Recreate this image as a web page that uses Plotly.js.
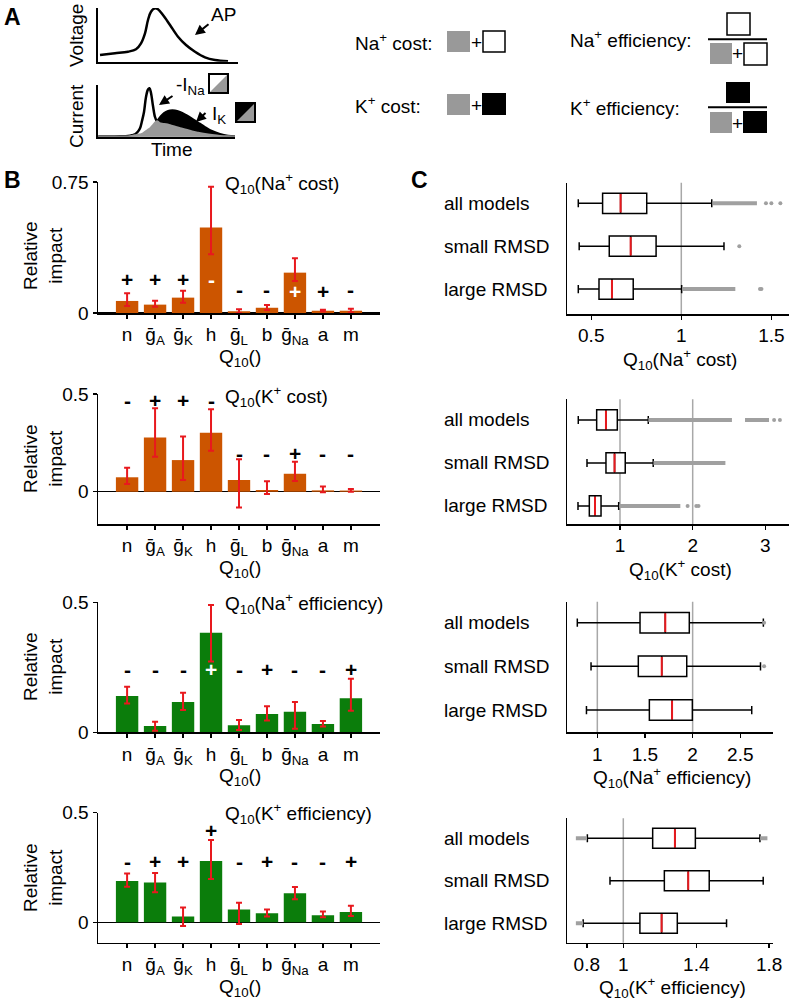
<!DOCTYPE html>
<html><head><meta charset="utf-8">
<script src="https://cdn.plot.ly/plotly-3.0.1.min.js"></script>
<style>html,body{margin:0;padding:0;background:#fff}#chart{width:791px;height:1002px}</style>
</head><body><div id="chart"></div>
<script>
const W = 791, H = 1002;
const FONT = 'Liberation Sans, Arial, Helvetica, sans-serif';

// ---------- Panel A: schematic traces (arbitrary units) ----------
const apTime    = [2, 17, 30, 38, 43, 47, 50, 53, 57, 60, 65, 72, 80, 88, 97, 107, 117, 130];
const apVoltage = [7, 8.7, 10.3, 12.7, 18.7, 28.7, 42, 50.3, 53.7, 52.7, 47, 37, 25.3, 17, 10.3, 4.7, 2, 0.7];
const curTime = [0, 12, 22, 30, 34, 37, 40, 42, 44, 46, 48, 50, 51.5, 53, 55, 57, 59, 61, 64, 68, 72, 77, 82, 88, 94, 100, 107, 114, 122, 130, 137];
const curNa   = [0.5, 0.5, 0.7, 1, 1.7, 2.7, 5.5, 8.7, 16, 25, 40, 47.5, 48.7, 44, 31, 20, 15.5, 14, 13, 12.5, 11.5, 10, 8.5, 7, 5.3, 4, 2.7, 1.7, 0.8, 0.4, 0.3];
const curK    = [0.3, 0.3, 0.3, 0.3, 0.8, 1.4, 2, 2.3, 2.8, 4, 5.5, 7, 8, 9.2, 11.5, 13.8, 15.7, 18.5, 22, 25, 26.5, 26.5, 25, 22, 18.5, 14.5, 10, 6, 3, 1.2, 0.5];

// ---------- Panel B: relative impact ----------
const params = ['n', 'ḡ<sub>A</sub>', 'ḡ<sub>K</sub>', 'h', 'ḡ<sub>L</sub>', 'b', 'ḡ<sub>Na</sub>', 'a', 'm'];

const naCostImpact = [0.069, 0.048, 0.088, 0.49, 0.01, 0.03, 0.231, 0.013, 0.013];
const naCostHi     = [0.113, 0.07, 0.128, 0.723, 0.021, 0.046, 0.313, 0.018, 0.025];
const naCostLo     = [0.04, 0.036, 0.059, 0.336, 0.0, 0.017, 0.183, 0.008, 0.005];
const naCostSign   = ['+', '+', '+', '-', '-', '-', '+', '+', '-'];
const naCostSignY  = [0.189, 0.189, 0.189, 0.193, 0.136, 0.136, 0.122, 0.122, 0.136];
const naCostInside = [0, 0, 0, 1, 0, 0, 1, 0, 0];

const kCostImpact = [0.074, 0.278, 0.162, 0.302, 0.06, 0.009, 0.092, 0.007, 0.006];
const kCostHi     = [0.123, 0.427, 0.282, 0.422, 0.166, 0.054, 0.154, 0.027, 0.014];
const kCostLo     = [0.039, 0.179, 0.06, 0.21, -0.08, -0.012, 0.055, -0.002, 0.0];
const kCostSign   = ['-', '+', '+', '-', '-', '-', '+', '-', '-'];
const kCostSignY  = [0.466, 0.466, 0.466, 0.466, 0.197, 0.197, 0.197, 0.197, 0.197];
const kCostInside = [0, 0, 0, 0, 0, 0, 0, 0, 0];

const naEffImpact = [0.14, 0.024, 0.117, 0.383, 0.027, 0.07, 0.079, 0.032, 0.131];
const naEffHi     = [0.175, 0.041, 0.152, 0.49, 0.047, 0.1, 0.117, 0.043, 0.206];
const naEffLo     = [0.111, 0.006, 0.086, 0.272, 0.009, 0.045, 0.014, 0.022, 0.083];
const naEffSign   = ['-', '-', '-', '+', '-', '+', '-', '-', '+'];
const naEffSignY  = [0.24, 0.24, 0.24, 0.24, 0.24, 0.24, 0.24, 0.24, 0.24];
const naEffInside = [0, 0, 0, 1, 0, 0, 0, 0, 0];

const kEffImpact = [0.188, 0.182, 0.027, 0.28, 0.059, 0.041, 0.132, 0.032, 0.047];
const kEffHi     = [0.223, 0.225, 0.068, 0.375, 0.089, 0.059, 0.161, 0.049, 0.076];
const kEffLo     = [0.162, 0.137, -0.017, 0.197, -0.008, 0.026, 0.105, 0.023, 0.029];
const kEffSign   = ['-', '+', '+', '+', '-', '+', '-', '-', '+'];
const kEffSignY  = [0.276, 0.276, 0.276, 0.42, 0.276, 0.276, 0.276, 0.276, 0.276];
const kEffInside = [0, 0, 0, 0, 0, 0, 0, 0, 0];

// ---------- Panel C: Q10 distributions (box statistics) ----------
const groups = ['all models', 'small RMSD', 'large RMSD'];
const groupPos = [2, 1, 0];

const c1Lo = [0.428, 0.433, 0.428], c1Q1 = [0.563, 0.600, 0.543], c1Med = [0.663, 0.719, 0.615], c1Q3 = [0.808, 0.860, 0.733], c1Hi = [1.169, 1.237, 1.002];
const c1Bands = [[0, 1.175, 1.42], [2, 1.008, 1.30]];
const c1Dots  = [[0, 1.47], [0, 1.50], [0, 1.55], [1, 1.322], [2, 1.437], [2, 1.445]];

const c2Lo = [0.426, 0.546, 0.422], c2Q1 = [0.679, 0.807, 0.578], c2Med = [0.807, 0.925, 0.656], c2Q3 = [0.963, 1.072, 0.739], c2Hi = [1.389, 1.457, 0.982];
const c2Bands = [[0, 1.39, 2.54], [0, 2.72, 3.05], [1, 1.46, 2.45], [2, 0.99, 1.83]];
const c2Dots  = [[0, 3.12], [0, 3.2], [2, 1.93], [2, 2.05], [2, 2.08]];

const c3Lo = [0.79, 0.934, 0.886], c3Q1 = [1.448, 1.43, 1.546], c3Med = [1.713, 1.676, 1.784], c3Q3 = [1.965, 1.938, 1.997], c3Hi = [2.742, 2.712, 2.62];
const c3Bands = [];
const c3Dots  = [[0, 2.75], [1, 2.75]];

const c4Lo = [0.803, 0.927, 0.78], c4Q1 = [1.161, 1.225, 1.091], c4Med = [1.283, 1.356, 1.21], c4Q3 = [1.395, 1.471, 1.296], c4Hi = [1.749, 1.767, 1.566];
const c4Bands = [[0, 0.74, 0.80], [0, 1.75, 1.79], [2, 0.74, 0.78]];
const c4Dots  = [];

// ---------- helpers ----------
const px = v => v / W, py = v => 1 - v / H;
const traces = [], annotations = [], shapes = [];
const layout = {
  width: W, height: H, margin: {l: 0, r: 0, t: 0, b: 0},
  paper_bgcolor: 'white', plot_bgcolor: 'rgba(0,0,0,0)',
  showlegend: false, hovermode: false,
  font: {family: FONT, size: 19, color: 'black'},
  bargap: 0.2
};
function txt(x, y, text, opt) {
  annotations.push(Object.assign({x: px(x), y: py(y), xref: 'paper', yref: 'paper', text: text,
    showarrow: false, xanchor: 'center', yanchor: 'middle', font: {family: FONT, size: 19, color: 'black'}}, opt || {}));
}
function rect(x0, y0, x1, y1, fill, lineW) {
  shapes.push({type: 'rect', xref: 'paper', yref: 'paper', x0: px(x0), x1: px(x1), y0: py(y1), y1: py(y0),
    fillcolor: fill, line: {color: 'black', width: lineW || 0}});
}
function hline(x0, x1, y, w) {
  shapes.push({type: 'line', xref: 'paper', yref: 'paper', x0: px(x0), x1: px(x1), y0: py(y), y1: py(y), line: {color: 'black', width: w}});
}
function arrow(hx, hy, tx, ty) {
  annotations.push({x: px(hx), y: py(hy), xref: 'paper', yref: 'paper', ax: tx - hx, ay: ty - hy, text: '',
    showarrow: true, arrowhead: 2, arrowsize: 1, arrowwidth: 2, arrowcolor: 'black'});
}
const GRAY = '#999999';

// ---------- Panel A ----------
const schemAxis = (dom, rng, anchor) => ({domain: dom, range: rng, showline: true, linecolor: 'black', linewidth: 2.5,
  showticklabels: false, ticks: '', showgrid: false, zeroline: false, anchor: anchor, fixedrange: true});
layout.xaxis9  = schemAxis([px(98.3), px(238)], [0.3, 140], 'y9');
layout.yaxis9  = schemAxis([py(61.7), py(8)], [0.3, 54], 'x9');
layout.xaxis10 = schemAxis([px(98.3), px(235)], [0.3, 137], 'y10');
layout.yaxis10 = schemAxis([py(136.7), py(85)], [0.3, 52], 'x10');

traces.push({type: 'scatter', mode: 'lines', x: apTime, y: apVoltage, xaxis: 'x9', yaxis: 'y9',
  line: {color: 'black', width: 2.5, shape: 'spline'}});
traces.push({type: 'scatter', mode: 'lines', x: curTime, y: curK, xaxis: 'x10', yaxis: 'y10', fill: 'tozeroy',
  fillcolor: 'black', line: {color: 'black', width: 2, shape: 'spline'}});
traces.push({type: 'scatter', mode: 'lines', x: curTime, y: curNa, xaxis: 'x10', yaxis: 'y10', fill: 'tozeroy',
  fillcolor: 'white', line: {color: 'black', width: 2.5, shape: 'spline'}});
const curOverlap = curNa.map((v, i) => Math.min(v, curK[i]));
traces.push({type: 'scatter', mode: 'lines', x: curTime, y: curOverlap, xaxis: 'x10', yaxis: 'y10', fill: 'tozeroy',
  fillcolor: GRAY, line: {color: GRAY, width: 2.5, shape: 'spline'}});

txt(12, 17, '<b>A</b>', {font: {family: FONT, size: 23, color: 'black'}});
txt(77, 36, 'Voltage', {textangle: -90});
txt(77, 116, 'Current', {textangle: -90});
txt(172, 150, 'Time');
txt(223, 14, 'AP');
arrow(195, 35, 210, 23);
txt(174, 86, '-I<sub>Na</sub>', {xanchor: 'left'});
arrow(159, 105, 174, 95);
txt(210, 115, 'I<sub>K</sub>', {xanchor: 'left'});
arrow(196, 122, 207, 111.5);
// current legend squares
rect(209, 74, 228, 93, 'white', 2);
shapes.push({type: 'path', xref: 'paper', yref: 'paper', path: `M ${px(228)} ${py(74)} L ${px(228)} ${py(93)} L ${px(209)} ${py(93)} Z`, fillcolor: GRAY, line: {width: 0}});
rect(209, 74, 228, 93, 'rgba(0,0,0,0)', 2);
rect(236, 103, 255, 122, 'black', 2);
shapes.push({type: 'path', xref: 'paper', yref: 'paper', path: `M ${px(255)} ${py(103)} L ${px(255)} ${py(122)} L ${px(236)} ${py(122)} Z`, fillcolor: GRAY, line: {width: 0}});
rect(236, 103, 255, 122, 'rgba(0,0,0,0)', 2);

// cost / efficiency definitions
txt(353, 42, 'Na<sup>+</sup> cost:', {xanchor: 'left'});
rect(447, 31, 470, 52, GRAY, 0); txt(476, 42, '+'); rect(483, 31, 505, 52, 'white', 1.5);
txt(353, 105, 'K<sup>+</sup> cost:', {xanchor: 'left'});
rect(447, 94, 470, 115, GRAY, 0); txt(476, 105, '+'); rect(482, 93, 506, 115, 'black', 0);
txt(568, 39, 'Na<sup>+</sup> efficiency:', {xanchor: 'left'});
rect(727, 13, 750, 35, 'white', 1.5); hline(708, 767, 39.3, 2);
rect(710, 43, 732, 64, GRAY, 0); txt(737.5, 54, '+'); rect(744, 43, 767, 65, 'white', 1.5);
txt(568, 107, 'K<sup>+</sup> efficiency:', {xanchor: 'left'});
rect(726, 82, 750, 103, 'black', 0); hline(708, 767, 107.3, 2);
rect(710, 112, 732, 133, GRAY, 0); txt(737.5, 123, '+'); rect(743, 111, 767, 133, 'black', 0);

// ---------- Panel B ----------
const ORANGE = '#cc5500', GREEN = '#0b7d0b', ERR = '#e8191e';
const idx = params.map((_, i) => i);
const barPanels = [
  {n: '',  val: naCostImpact, hi: naCostHi, lo: naCostLo, sign: naCostSign, sy: naCostSignY, inside: naCostInside, color: ORANGE,
   top: 182, bot: 313, range: [0, 0.75], ticks: [0, 0.75], title: 'Q<sub>10</sub>(Na<sup>+</sup> cost)', titleY: 184, labY: 256},
  {n: '2', val: kCostImpact, hi: kCostHi, lo: kCostLo, sign: kCostSign, sy: kCostSignY, inside: kCostInside, color: ORANGE,
   top: 394, bot: 524, range: [-0.165, 0.5], ticks: [0, 0.5], title: 'Q<sub>10</sub>(K<sup>+</sup> cost)', titleY: 396, labY: 459},
  {n: '3', val: naEffImpact, hi: naEffHi, lo: naEffLo, sign: naEffSign, sy: naEffSignY, inside: naEffInside, color: GREEN,
   top: 602.3, bot: 732.3, range: [0, 0.5], ticks: [0, 0.5], title: 'Q<sub>10</sub>(Na<sup>+</sup> efficiency)', titleY: 603, labY: 667},
  {n: '4', val: kEffImpact, hi: kEffHi, lo: kEffLo, sign: kEffSign, sy: kEffSignY, inside: kEffInside, color: GREEN,
   top: 812.7, bot: 942.7, range: [-0.093, 0.5], ticks: [0, 0.5], title: 'Q<sub>10</sub>(K<sup>+</sup> efficiency)', titleY: 813, labY: 878}
];
barPanels.forEach(p => {
  const xa = 'x' + p.n, ya = 'y' + p.n;
  layout['xaxis' + p.n] = {domain: [px(98), px(380)], range: [-1.04, 9.04], tickvals: idx, ticktext: params,
    showline: true, linecolor: 'black', linewidth: 1.5, ticks: 'outside', ticklen: 4, tickwidth: 1.5, tickcolor: 'black',
    tickfont: {size: 19}, showgrid: false, zeroline: false, anchor: ya, fixedrange: true};
  layout['yaxis' + p.n] = {domain: [py(p.bot), py(p.top)], range: p.range, tickvals: p.ticks, ticktext: p.ticks.map(String),
    showline: true, linecolor: 'black', linewidth: 1.5, ticks: 'outside', ticklen: 4, tickwidth: 1.5, tickcolor: 'black',
    tickfont: {size: 19}, showgrid: false, zeroline: true, zerolinecolor: 'black', zerolinewidth: 1.5, anchor: xa, fixedrange: true};
  traces.push({type: 'bar', x: idx, y: p.val, xaxis: xa, yaxis: ya, width: 0.8,
    marker: {color: p.color, line: {width: 0}},
    error_y: {type: 'data', symmetric: false, array: p.hi.map((h, i) => h - p.val[i]), arrayminus: p.val.map((v, i) => v - p.lo[i]),
      color: ERR, thickness: 2, width: 3}});
  p.sign.forEach((s, i) => annotations.push({x: i, y: p.sy[i], xref: xa, yref: ya, text: s, showarrow: false,
    xanchor: 'center', yanchor: 'middle', font: {family: FONT, size: 21, weight: 'bold', color: p.inside[i] ? 'white' : 'black'}}));
  txt(223, p.titleY, p.title, {xanchor: 'left'});
  txt(43, p.labY, 'Relative<br>impact', {textangle: -90});
  txt(240, p.bot + 45, 'Q<sub>10</sub>()');
});
txt(12, 180, '<b>B</b>', {font: {family: FONT, size: 23, color: 'black'}});

// ---------- Panel C ----------
const boxPanels = [
  {n: '5', lo: c1Lo, q1: c1Q1, med: c1Med, q3: c1Q3, hi: c1Hi, bands: c1Bands, dots: c1Dots, refs: [1],
   x0: 567.3, x1: 789, top: 182.7, bot: 314, xr: [0.367, 1.598], yr: [-0.58, 2.48], tv: [0.5, 1, 1.5], title: 'Q<sub>10</sub>(Na<sup>+</sup> cost)'},
  {n: '6', lo: c2Lo, q1: c2Q1, med: c2Med, q3: c2Q3, hi: c2Hi, bands: c2Bands, dots: c2Dots, refs: [1, 2],
   x0: 567.3, x1: 789, top: 399.3, bot: 524, xr: [0.275, 3.325], yr: [-0.42, 2.48], tv: [1, 2, 3], title: 'Q<sub>10</sub>(K<sup>+</sup> cost)'},
  {n: '7', lo: c3Lo, q1: c3Q1, med: c3Med, q3: c3Q3, hi: c3Hi, bands: c3Bands, dots: c3Dots, refs: [1, 2],
   x0: 567.3, x1: 772.7, top: 601.7, bot: 732.3, xr: [0.685, 2.84], yr: [-0.51, 2.48], tv: [1, 1.5, 2, 2.5], title: 'Q<sub>10</sub>(Na<sup>+</sup> efficiency)'},
  {n: '8', lo: c4Lo, q1: c4Q1, med: c4Med, q3: c4Q3, hi: c4Hi, bands: c4Bands, dots: c4Dots, refs: [1],
   x0: 567.3, x1: 772.7, top: 818.3, bot: 942.7, xr: [0.693, 1.819], yr: [-0.46, 2.47], tv: [0.8, 1, 1.4, 1.8], title: 'Q<sub>10</sub>(K<sup>+</sup> efficiency)'}
];
const BOXW = 0.47;
boxPanels.forEach(p => {
  const xa = 'x' + p.n, ya = 'y' + p.n;
  layout['xaxis' + p.n] = {domain: [px(p.x0), px(p.x1)], range: p.xr, tickvals: p.tv, ticktext: p.tv.map(String),
    showline: true, linecolor: 'black', linewidth: 1.5, ticks: 'outside', ticklen: 4, tickwidth: 1.5, tickcolor: 'black',
    tickfont: {size: 19}, showgrid: false, zeroline: false, anchor: ya, fixedrange: true};
  layout['yaxis' + p.n] = {domain: [py(p.bot), py(p.top)], range: p.yr, showticklabels: false, ticks: '',
    showline: true, linecolor: 'black', linewidth: 1.5, showgrid: false, zeroline: false, anchor: xa, fixedrange: true};
  p.refs.forEach(r => shapes.push({type: 'line', xref: xa, yref: ya + ' domain', x0: r, x1: r, y0: 0, y1: 1, layer: 'below',
    line: {color: '#a8a8a8', width: 1.5}}));
  const bx = [], by = [];
  p.bands.forEach(b => { bx.push(b[1], b[2], null); by.push(groupPos[b[0]], groupPos[b[0]], null); });
  traces.push({type: 'scatter', mode: 'lines', x: bx, y: by, xaxis: xa, yaxis: ya, line: {color: '#a0a0a0', width: 4}});
  traces.push({type: 'scatter', mode: 'markers', x: p.dots.map(d => d[1]), y: p.dots.map(d => groupPos[d[0]]), xaxis: xa, yaxis: ya,
    marker: {color: '#a0a0a0', size: 4}});
  traces.push({type: 'box', orientation: 'h', y: groupPos, q1: p.q1, median: p.med, q3: p.q3, lowerfence: p.lo, upperfence: p.hi,
    xaxis: xa, yaxis: ya, width: BOXW, whiskerwidth: 0.4, line: {color: 'black', width: 1.5}, fillcolor: 'white', boxpoints: false});
  const mx = [], my = [];
  p.med.forEach((m, i) => { mx.push(m, m, null); my.push(groupPos[i] - BOXW / 2 + 0.02, groupPos[i] + BOXW / 2 - 0.02, null); });
  traces.push({type: 'scatter', mode: 'lines', x: mx, y: my, xaxis: xa, yaxis: ya, line: {color: '#e8191e', width: 2}});
  groups.forEach((g, i) => annotations.push({x: px(442), y: groupPos[i], xref: 'paper', yref: ya, text: g, showarrow: false,
    xanchor: 'left', yanchor: 'middle', font: {family: FONT, size: 19, color: 'black'}}));
  txt((p.x0 + p.x1) / 2 + 2, p.bot + 45, p.title);
});
txt(419, 180, '<b>C</b>', {font: {family: FONT, size: 23, color: 'black'}});

layout.annotations = annotations;
layout.shapes = shapes;
Plotly.newPlot('chart', traces, layout, {displayModeBar: false, staticPlot: true});
</script>
</body></html>
